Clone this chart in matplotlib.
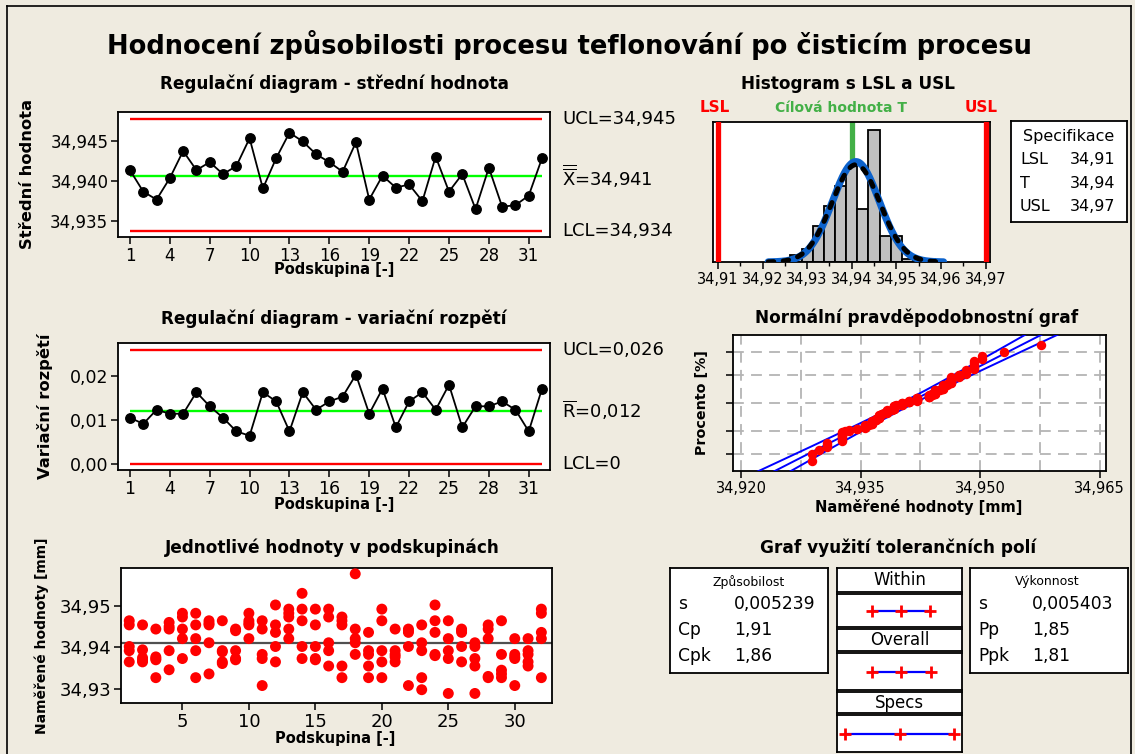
import numpy as np
import matplotlib
matplotlib.use("Agg")
import matplotlib.pyplot as plt
import matplotlib.transforms as mtrans
from matplotlib.lines import Line2D
from matplotlib.ticker import FixedLocator, FuncFormatter
from statistics import NormalDist

# ---------------------------------------------------------------- data
subgroups = np.arange(1, 33)

xbar = [34.9414, 34.9387, 34.9377, 34.9404, 34.9438, 34.9414, 34.9424, 34.9409,
        34.9419, 34.9454, 34.9391, 34.9429, 34.9461, 34.9450, 34.9434, 34.9424,
        34.9412, 34.9449, 34.9377, 34.9407, 34.9392, 34.9396, 34.9375, 34.9431,
        34.9387, 34.9409, 34.9365, 34.9417, 34.9368, 34.9370, 34.9382, 34.9429]
xbar_ucl, xbar_cl, xbar_lcl = 34.9478, 34.9407, 34.9337
xbar_labels = ["UCL=34,945", r"$\overline{\overline{\mathrm{X}}}$=34,941", "LCL=34,934"]

ranges = [0.0105, 0.0091, 0.0123, 0.0114, 0.0114, 0.0163, 0.0131, 0.0105,
          0.0074, 0.0064, 0.0163, 0.0142, 0.0074, 0.0163, 0.0123, 0.0142,
          0.0153, 0.0203, 0.0114, 0.0171, 0.0083, 0.0142, 0.0163, 0.0123,
          0.0180, 0.0083, 0.0131, 0.0131, 0.0142, 0.0123, 0.0074, 0.0171]
r_ucl, r_cl, r_lcl = 0.0258, 0.0121, 0.0
r_labels = ["UCL=0,026", r"$\overline{\mathrm{R}}$=0,012", "LCL=0"]

values = [
    [34.9464, 34.9454, 34.9402, 34.9392, 34.9365],
    [34.9454, 34.9394, 34.9375, 34.9369, 34.9365],
    [34.9444, 34.9377, 34.9373, 34.9370, 34.9327],
    [34.9460, 34.9450, 34.9444, 34.9392, 34.9346],
    [34.9482, 34.9473, 34.9444, 34.9421, 34.9373],
    [34.9482, 34.9454, 34.9421, 34.9392, 34.9327],
    [34.9464, 34.9458, 34.9454, 34.9411, 34.9336],
    [34.9464, 34.9392, 34.9389, 34.9365, 34.9361],
    [34.9444, 34.9440, 34.9392, 34.9373, 34.9370],
    [34.9482, 34.9464, 34.9458, 34.9454, 34.9421],
    [34.9464, 34.9444, 34.9383, 34.9373, 34.9308],
    [34.9502, 34.9454, 34.9436, 34.9402, 34.9365],
    [34.9492, 34.9482, 34.9473, 34.9444, 34.9421],
    [34.9530, 34.9492, 34.9464, 34.9402, 34.9373],
    [34.9492, 34.9454, 34.9402, 34.9373, 34.9370],
    [34.9492, 34.9473, 34.9411, 34.9392, 34.9355],
    [34.9473, 34.9464, 34.9454, 34.9355, 34.9327],
    [34.9577, 34.9444, 34.9421, 34.9411, 34.9383],
    [34.9436, 34.9392, 34.9383, 34.9355, 34.9327],
    [34.9492, 34.9464, 34.9392, 34.9365, 34.9327],
    [34.9444, 34.9392, 34.9383, 34.9377, 34.9365],
    [34.9444, 34.9440, 34.9436, 34.9402, 34.9308],
    [34.9454, 34.9411, 34.9392, 34.9327, 34.9298],
    [34.9502, 34.9464, 34.9436, 34.9383, 34.9380],
    [34.9464, 34.9421, 34.9392, 34.9373, 34.9289],
    [34.9444, 34.9440, 34.9436, 34.9402, 34.9365],
    [34.9411, 34.9402, 34.9373, 34.9355, 34.9289],
    [34.9454, 34.9444, 34.9421, 34.9330, 34.9327],
    [34.9464, 34.9383, 34.9345, 34.9336, 34.9327],
    [34.9421, 34.9383, 34.9377, 34.9373, 34.9308],
    [34.9421, 34.9392, 34.9383, 34.9365, 34.9355],
    [34.9492, 34.9482, 34.9436, 34.9421, 34.9327],
]

hist_centers = [34.9275, 34.9300, 34.9325, 34.9350, 34.9375, 34.9400, 34.9425,
                34.9450, 34.9475, 34.9500, 34.9525, 34.9550, 34.9575]
hist_counts = [2, 4, 11, 17, 23, 29, 16, 40, 8, 8, 1, 0, 1]
bin_width = 0.0025

LSL, TARGET, USL = 34.91, 34.94, 34.97
s_within, s_overall = 0.005239, 0.005403
cap_rows = [("s", "0,005239"), ("Cp", "1,91"), ("Cpk", "1,86")]
perf_rows = [("s", "0,005403"), ("Pp", "1,85"), ("Ppk", "1,81")]
spec_rows = [("LSL", "34,91"), ("T", "34,94"), ("USL", "34,97")]
prob_percents = [1, 10, 50, 90, 99]

# ---------------------------------------------------------------- style
W, H = 1135, 754
BG = "#EFEBE0"
RED = "#FF0000"
LIME = "#00FF00"
GREEN = "#43B047"
BLUE_CURVE = "#0C62CC"
plt.rcParams["font.family"] = ["DejaVu Sans"]
plt.rcParams["mathtext.fontset"] = "dejavusans"

fig = plt.figure(figsize=(W / 100, H / 100), dpi=100, facecolor=BG)


def add_axes(l, t, r, b, face="white"):
    ax = fig.add_axes([l / W, 1 - b / H, (r - l) / W, (b - t) / H])
    ax.set_facecolor(face)
    for sp in ax.spines.values():
        sp.set_linewidth(1.3)
        sp.set_color("black")
    return ax


def ftext(x, y, s, **kw):
    kw.setdefault("ha", "center")
    kw.setdefault("va", "center")
    return fig.text(x / W, 1 - y / H, s, **kw)


def comma(nd):
    return FuncFormatter(lambda v, pos: f"{v:.{nd}f}".replace(".", ","))


def ticks(ax, size):
    ax.tick_params(direction="out", length=5, width=1.1, labelsize=size,
                   colors="black", pad=2)


# frame around the whole graph
fig.add_artist(Line2D([7 / W, 7 / W], [0, 1 - 6 / H], color="black", lw=1.2))
fig.add_artist(Line2D([7 / W, 1131 / W], [1 - 6 / H, 1 - 6 / H], color="black", lw=1.2))
fig.add_artist(Line2D([1131 / W, 1131 / W], [0, 1 - 6 / H], color="black", lw=1.2))

ftext(569, 45, "Hodnocení způsobilosti procesu teflonování po čisticím procesu",
      fontsize=18.5, fontweight="bold")

# ---------------------------------------------------------------- X-bar chart
ax1 = add_axes(118, 112, 550, 237)
ax1.hlines([xbar_ucl, xbar_lcl], subgroups[0], subgroups[-1], color=RED, lw=1.7, zorder=2)
ax1.hlines(xbar_cl, subgroups[0], subgroups[-1], color=LIME, lw=1.7, zorder=2)
ax1.plot(subgroups, xbar, "-o", color="black", lw=1.3, ms=6.8, zorder=3)
ax1.set_xlim(0.1, 32.6)
ax1.set_ylim(34.9330, 34.9487)
ax1.xaxis.set_major_locator(FixedLocator(np.arange(1, 33, 3)))
ax1.yaxis.set_major_locator(FixedLocator([34.935, 34.940, 34.945]))
ax1.yaxis.set_major_formatter(comma(3))
ticks(ax1, 12)
blend1 = mtrans.blended_transform_factory(ax1.transAxes, ax1.transData)
for val, lab in zip([xbar_ucl, xbar_cl, xbar_lcl], xbar_labels):
    ax1.text(1.028, val, lab, transform=blend1, ha="left", va="center", fontsize=13)
ftext(334, 84, "Regulační diagram - střední hodnota", fontsize=12.2, fontweight="bold")
ftext(334, 270, "Podskupina [-]", fontsize=10.5, fontweight="bold")
ftext(28, 174, "Střední hodnota", fontsize=11.8, fontweight="bold", rotation=90)

# ---------------------------------------------------------------- R chart
ax2 = add_axes(118, 343, 550, 470)
ax2.hlines([r_ucl, r_lcl], subgroups[0], subgroups[-1], color=RED, lw=1.7, zorder=2)
ax2.hlines(r_cl, subgroups[0], subgroups[-1], color=LIME, lw=1.7, zorder=2)
ax2.plot(subgroups, ranges, "-o", color="black", lw=1.3, ms=6.8, zorder=3)
ax2.set_xlim(0.1, 32.6)
ax2.set_ylim(-0.0014, 0.0275)
ax2.xaxis.set_major_locator(FixedLocator(np.arange(1, 33, 3)))
ax2.yaxis.set_major_locator(FixedLocator([0.0, 0.01, 0.02]))
ax2.yaxis.set_major_formatter(comma(2))
ticks(ax2, 12.5)
blend2 = mtrans.blended_transform_factory(ax2.transAxes, ax2.transData)
for val, lab in zip([r_ucl, r_cl, r_lcl], r_labels):
    ax2.text(1.028, val, lab, transform=blend2, ha="left", va="center", fontsize=13)
ftext(334, 319, "Regulační diagram - variační rozpětí", fontsize=12.2, fontweight="bold")
ftext(334, 505, "Podskupina [-]", fontsize=10.5, fontweight="bold")
ftext(45, 406, "Variační rozpětí", fontsize=11.8, fontweight="bold", rotation=90)

# ---------------------------------------------------------------- individual values
all_values = np.concatenate([np.asarray(v) for v in values])
grand_mean = all_values.mean()
ax3 = add_axes(121, 568, 552, 703)
for k, vals in zip(subgroups, values):
    ax3.scatter(np.full(len(vals), k), vals, s=62, color=RED, edgecolors="none", zorder=3)
ax3.axhline(grand_mean, color="#505050", lw=1.6, zorder=2)
ax3.set_xlim(0.38, 32.8)
ax3.set_ylim(34.9266, 34.9591)
ax3.xaxis.set_major_locator(FixedLocator([5, 10, 15, 20, 25, 30]))
ax3.yaxis.set_major_locator(FixedLocator([34.93, 34.94, 34.95]))
ax3.yaxis.set_major_formatter(comma(2))
ticks(ax3, 13)
ftext(332, 548, "Jednotlivé hodnoty v podskupinách", fontsize=12.2, fontweight="bold")
ftext(335, 739, "Podskupina [-]", fontsize=10.5, fontweight="bold")
ftext(42, 636, "Naměřené hodnoty [mm]", fontsize=10, fontweight="bold", rotation=90)

# ---------------------------------------------------------------- histogram
axh = add_axes(713, 122, 990, 262)
axh.axvline(TARGET, color=GREEN, lw=3.8, zorder=1)
axh.bar(hist_centers, hist_counts, width=bin_width, color="#C0C0C0",
        edgecolor="black", lw=1.3, zorder=2)
n_total = len(all_values)
xs = np.linspace(grand_mean - 3.75 * s_within, grand_mean + 3.75 * s_within, 400)


def normal_counts(x, sd):
    return n_total * bin_width * np.exp(-0.5 * ((x - grand_mean) / sd) ** 2) / (sd * np.sqrt(2 * np.pi))


axh.plot(xs, normal_counts(xs, s_within), color=BLUE_CURVE, lw=5.2,
         solid_capstyle="round", zorder=3)
axh.plot(xs, normal_counts(xs, s_overall), color="black", lw=3.6,
         dashes=(1.1, 1.9), dash_capstyle="round", zorder=4)
axh.axvline(LSL, color=RED, lw=3.8, zorder=5)
axh.axvline(USL, color=RED, lw=3.8, zorder=5)
axh.set_xlim(34.9089, 34.9710)
axh.set_ylim(0, 42.5)
axh.set_yticks([])
axh.xaxis.set_major_locator(FixedLocator([34.91, 34.92, 34.93, 34.94, 34.95, 34.96, 34.97]))
axh.xaxis.set_minor_locator(FixedLocator(np.arange(34.915, 34.97, 0.01)))
axh.xaxis.set_major_formatter(comma(2))
ticks(axh, 10.5)
axh.tick_params(which="minor", direction="out", length=3, width=1)
ftext(848, 84, "Histogram s LSL a USL", fontsize=12.2, fontweight="bold")
ftext(715, 108, "LSL", fontsize=11, fontweight="bold", color=RED)
ftext(841, 108, "Cílová hodnota T", fontsize=10, fontweight="bold", color=GREEN)
ftext(981, 108, "USL", fontsize=11, fontweight="bold", color=RED)

axs = add_axes(1011, 121, 1127, 222)
axs.set_xticks([]); axs.set_yticks([])
ftext(1069, 137, "Specifikace", fontsize=11.5)
for i, (lab, val) in enumerate(spec_rows):
    y = 160 + i * 23.3
    ftext(1020, y, lab, fontsize=11.5, ha="left")
    ftext(1115, y, val, fontsize=11.5, ha="right")

# ---------------------------------------------------------------- normal probability plot
axp = add_axes(733, 335, 1106, 471)
nd = NormalDist()
sorted_vals = np.sort(all_values)
ranks = (np.arange(1, n_total + 1) - 0.3) / (n_total + 0.4)
zq = np.array([nd.inv_cdf(p) for p in ranks])
zline = np.linspace(-3.3, 3.3, 200)
fit = grand_mean + s_overall * zline
half = 1.96 * s_overall * np.sqrt(1.0 / n_total + zline ** 2 / (2 * (n_total - 1)))
for curve in (fit - half, fit, fit + half):
    axp.plot(curve, zline, color="#0000FF", lw=1.4, zorder=3)
axp.plot(sorted_vals, zq, "o", color=RED, ms=6.8, mec="none", zorder=4)
grid_x = [34.92, 34.9275, 34.935, 34.9425, 34.95, 34.9575, 34.965]
grid_z = [nd.inv_cdf(p / 100) for p in prob_percents]
for gx in grid_x:
    axp.axvline(gx, color="#B4B4B4", lw=1.3, dashes=(6, 4), zorder=1)
for gz in grid_z:
    axp.axhline(gz, color="#B4B4B4", lw=1.3, dashes=(6, 4), zorder=1)
axp.set_xlim(34.9190, 34.9658)
axp.set_ylim(-3.09, 3.09)
axp.xaxis.set_major_locator(FixedLocator([34.92, 34.935, 34.95, 34.965]))
axp.xaxis.set_major_formatter(comma(3))
axp.yaxis.set_major_locator(FixedLocator(grid_z))
axp.set_yticklabels([])
ticks(axp, 10.5)
ftext(917, 318, "Normální pravděpodobnostní graf", fontsize=12.2, fontweight="bold")
ftext(919, 507, "Naměřené hodnoty [mm]", fontsize=10.5, fontweight="bold")
ftext(702, 403, "Procento [%]", fontsize=10.3, fontweight="bold", rotation=90)

# ---------------------------------------------------------------- capability plot
ftext(898, 548, "Graf využití tolerančních polí", fontsize=12.2, fontweight="bold")


def plain_box(l, t, r, b):
    ax = add_axes(l, t, r, b)
    ax.set_xticks([]); ax.set_yticks([])
    return ax


plain_box(670, 568, 828, 673)
ftext(749, 582, "Způsobilost", fontsize=9)
for i, (lab, val) in enumerate(cap_rows):
    y = 604 + i * 26
    ftext(678, y, lab, fontsize=12.3, ha="left")
    ftext(734, y, val, fontsize=12.3, ha="left")

plain_box(970, 568, 1128, 673)
ftext(1047, 582, "Výkonnost", fontsize=9)
for i, (lab, val) in enumerate(perf_rows):
    y = 604 + i * 26
    ftext(978, y, lab, fontsize=12.3, ha="left")
    ftext(1032, y, val, fontsize=12.3, ha="left")

cap_xlim = (34.9059, 34.9741)
bands = [
    ("Within", (568, 592), (594, 627), (grand_mean - 3 * s_within, grand_mean, grand_mean + 3 * s_within)),
    ("Overall", (629, 651), (653, 690), (grand_mean - 3 * s_overall, grand_mean, grand_mean + 3 * s_overall)),
    ("Specs", (692, 713), (715, 752), (LSL, TARGET, USL)),
]
for name, (ht, hb), (pt, pb), pts in bands:
    plain_box(837, ht, 962, hb)
    ftext(899.5, (ht + hb) / 2, name, fontsize=12)
    axc = plain_box(837, pt, 962, pb)
    axc.plot(pts, [0, 0, 0], color="#0000FF", lw=1.6, zorder=2)
    axc.plot(pts, [0, 0, 0], "+", color=RED, ms=8.5, mew=2, zorder=3)
    axc.set_xlim(*cap_xlim)
    axc.set_ylim(-1, 1)

fig.savefig("out.png", dpi=100, facecolor=BG)
